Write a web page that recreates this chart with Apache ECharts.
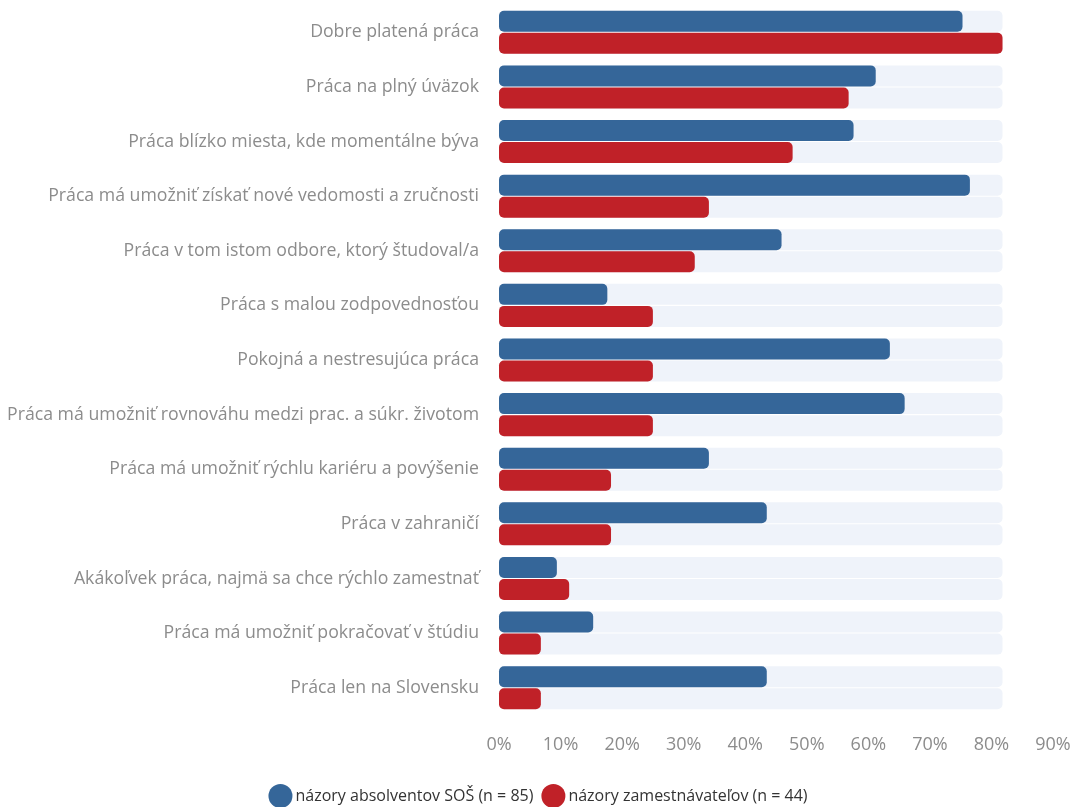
<!DOCTYPE html>
<html>
<head>
<meta charset="utf-8">
<script src="https://cdn.jsdelivr.net/npm/echarts@6/dist/echarts.min.js"></script>
<style>
html,body{margin:0;padding:0;background:#fff;}
#chart{width:1076px;height:807px;}
</style>
</head>
<body>
<div id="chart"></div>
<script>
var categories = [
  "Dobre platená práca",
  "Práca na plný úväzok",
  "Práca blízko miesta, kde momentálne býva",
  "Práca má umožniť získať nové vedomosti a zručnosti",
  "Práca v tom istom odbore, ktorý študoval/a",
  "Práca s malou zodpovednosťou",
  "Pokojná a nestresujúca práca",
  "Práca má umožniť rovnováhu medzi prac. a súkr. životom",
  "Práca má umožniť rýchlu kariéru a povýšenie",
  "Práca v zahraničí",
  "Akákoľvek práca, najmä sa chce rýchlo zamestnať",
  "Práca má umožniť pokračovať v štúdiu",
  "Práca len na Slovensku"
];
var seriesNames = ["názory absolventov SOŠ (n = 85)", "názory zamestnávateľov (n = 44)"];
var graduates = [75.3, 61.2, 57.6, 76.5, 45.9, 17.6, 63.5, 65.9, 34.1, 43.5, 9.4, 15.3, 43.5];
var employers = [81.8, 56.8, 47.7, 34.1, 31.8, 25.0, 25.0, 25.0, 18.2, 18.2, 11.4, 6.8, 6.8];
var xTicks = [0, 10, 20, 30, 40, 50, 60, 70, 80, 90];

var bgMax = Math.max.apply(null, graduates.concat(employers));
var bgData = categories.map(function(){ return bgMax; });

var FONT = "Open Sans";
var barW = 21;
var chart = echarts.init(document.getElementById('chart'));
chart.setOption({
  animation: false,
  textStyle: {fontFamily: FONT},
  grid: {left: 499, right: 23, top: 5, bottom: 92, containLabel: false},
  legend: {
    data: seriesNames,
    bottom: -6,
    left: 'center',
    icon: 'circle',
    itemWidth: 24,
    itemHeight: 24,
    itemGap: 8,
    textStyle: {fontFamily: FONT, fontSize: 16, color: '#333', padding: [0,0,0,-2]}
  },
  xAxis: {
    type: 'value',
    min: xTicks[0],
    max: xTicks[xTicks.length-1],
    interval: 10,
    splitLine: {show: false},
    axisLine: {show: false},
    axisTick: {show: false},
    axisLabel: {formatter: '{value}%', color: '#8c8c8c', fontSize: 18, margin: 21}
  },
  yAxis: [
    {
      type: 'category',
      data: categories,
      inverse: true,
      axisLine: {show: false},
      axisTick: {show: false},
      axisLabel: {color: '#8c8c8c', fontSize: 17.7, margin: 20}
    },
    {
      type: 'category',
      data: categories,
      inverse: true,
      show: false
    }
  ],
  series: [
    {type: 'bar', yAxisIndex: 1, data: bgData, barWidth: barW, barGap: '5%', silent: true,
     itemStyle: {color: '#eff3fa', borderRadius: 5}, z: 1, legendHoverLink: false},
    {type: 'bar', yAxisIndex: 1, data: bgData, barWidth: barW, barGap: '5%', silent: true,
     itemStyle: {color: '#eff3fa', borderRadius: 5}, z: 1, legendHoverLink: false},
    {name: seriesNames[0], type: 'bar', yAxisIndex: 0, data: graduates, barWidth: barW, barGap: '5%',
     itemStyle: {color: '#356699', borderRadius: 5}, z: 3},
    {name: seriesNames[1], type: 'bar', yAxisIndex: 0, data: employers, barWidth: barW, barGap: '5%',
     itemStyle: {color: '#c02128', borderRadius: 5}, z: 3}
  ]
});
</script>
</body>
</html>
